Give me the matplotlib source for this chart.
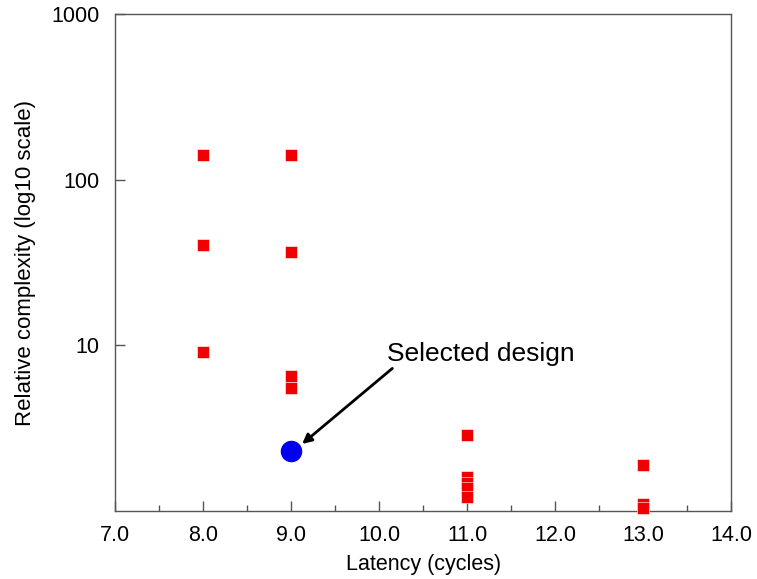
import matplotlib
matplotlib.use("Agg")
import matplotlib.pyplot as plt
from matplotlib.ticker import FixedLocator, FixedFormatter, MultipleLocator, NullLocator

plt.rcParams['font.family'] = ['Liberation Sans', 'DejaVu Sans']

# Data (red squares: design alternatives)
latency = [8, 8, 8, 9, 9, 9, 9, 11, 11, 11, 11, 11, 13, 13, 13]
complexity = [141, 40.5, 9.1, 141, 36.5, 6.5, 5.5, 2.88, 1.60, 1.47, 1.38, 1.21, 1.89, 1.10, 1.04]

# Selected design (blue circle)
sel_latency = [9]
sel_complexity = [2.3]

x_ticks = [7.0, 8.0, 9.0, 10.0, 11.0, 12.0, 13.0, 14.0]
y_ticks = [10, 100, 1000]
y_tick_labels = ["10", "100", "1000"]

fig = plt.figure(figsize=(7.57, 5.79), dpi=100)
ax = fig.add_axes([0.152, 0.1174, 0.814, 0.8584])

ax.plot(latency, complexity, linestyle='none', marker='s', markersize=8,
        color='#f00000', markeredgecolor='white', markeredgewidth=0.4, clip_on=False, zorder=3)
ax.plot(sel_latency, sel_complexity, linestyle='none', marker='o', markersize=14.5,
        color='#0000ee', markeredgecolor='#0000ee', clip_on=False, zorder=4)

ax.set_yscale('log')
ax.set_xlim(7, 14)
ax.set_ylim(1, 1000)

ax.xaxis.set_major_locator(FixedLocator(x_ticks))
ax.xaxis.set_major_formatter(FixedFormatter([f"{v:.1f}" for v in x_ticks]))
ax.xaxis.set_minor_locator(MultipleLocator(0.5))
ax.yaxis.set_major_locator(FixedLocator(y_ticks))
ax.yaxis.set_major_formatter(FixedFormatter(y_tick_labels))
ax.yaxis.set_minor_locator(NullLocator())

for s in ax.spines.values():
    s.set_color('#555555')
    s.set_linewidth(1.0)

ax.tick_params(axis='both', which='major', direction='in', length=7, width=1,
               color='#555555', labelsize=15.5, top=False, right=False)
ax.tick_params(axis='x', which='major', pad=10)
ax.tick_params(axis='y', which='major', pad=11)
ax.tick_params(axis='x', which='minor', direction='in', length=4, width=1,
               color='#555555', top=False)

ax.set_xlabel("Latency (cycles)", fontsize=15.5, labelpad=6)
ax.set_ylabel("Relative complexity (log10 scale)", fontsize=16, labelpad=11)

ax.text(10.09, 8.83, "Selected design", fontsize=19, ha='left', va='center')
ax.annotate("", xy=(9.125, 2.54), xytext=(10.15, 7.26),
            arrowprops=dict(arrowstyle='-|>', color='black', lw=2,
                            mutation_scale=14, shrinkA=0, shrinkB=0))

fig.savefig("out.png", dpi=100)
